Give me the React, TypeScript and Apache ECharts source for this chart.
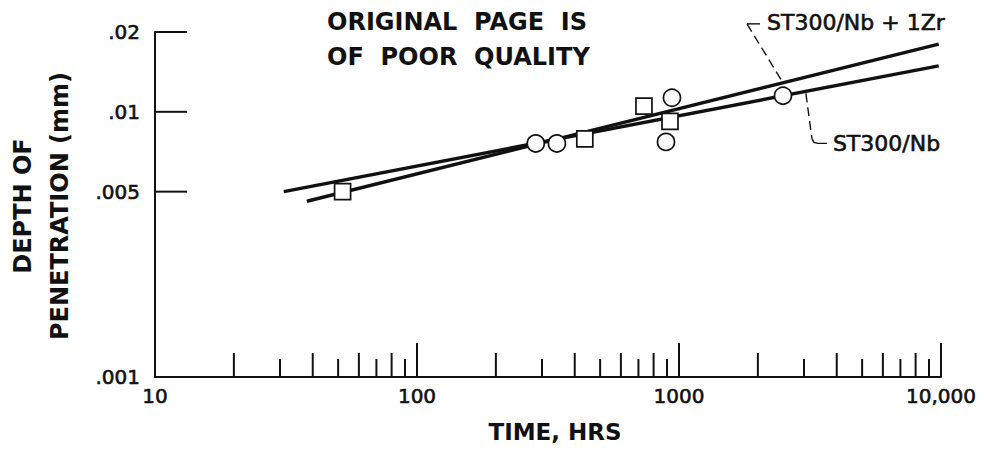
import React, { useEffect, useRef } from 'react';
import * as echarts from 'echarts';

// ---- data ----
const xLabelValues = [10, 100, 1000, 10000];
const xLabelTexts = ['10', '100', '1000', '10,000'];
const xMajorTicks = [100, 1000, 10000];
const xEvenTicks = [20, 40, 60, 80, 200, 400, 600, 800, 2000, 4000, 6000, 8000];
const xOddTicks = [30, 50, 70, 90, 300, 500, 700, 900, 3000, 5000, 7000, 9000];
const yTickValues = [0.001, 0.005, 0.01, 0.02];
const yTickLabels = ['.001', '.005', '.01', '.02'];

const circleTimes = [284, 342, 892, 940, 2494];
const circleDepths = [0.0076, 0.0076, 0.0077, 0.0113, 0.0115];
const squareTimes = [52, 437, 735, 924];
const squareDepths = [0.005, 0.0079, 0.0105, 0.0092];

const nbZrLineTimes = [38, 9800];
const nbZrLineDepths = [0.0046, 0.018];
const nbLineTimes = [31, 9800];
const nbLineDepths = [0.005, 0.0149];

const nbZrLabel = 'ST300/Nb + 1Zr';
const nbLabel = 'ST300/Nb';
const nbZrAnchorTime = 2494;
const nbAnchorTime = 3050;

const X_MIN = 10;
const X_MAX = 10000;
const Y_MIN = 0.001;
const Y_MAX = 0.02;

const FONT = "'DejaVu Sans', 'Liberation Sans', Arial, sans-serif";
const INK = '#111';
const THICK = { textBorderColor: INK, textBorderWidth: 0.6 };

function depthOnLine(times: number[], depths: number[], t: number) {
  const lx0 = Math.log10(times[0]);
  const lx1 = Math.log10(times[1]);
  const ly0 = Math.log10(depths[0]);
  const ly1 = Math.log10(depths[1]);
  const f = (Math.log10(t) - lx0) / (lx1 - lx0);
  return Math.pow(10, ly0 + f * (ly1 - ly0));
}

function tickSeries(values: number[], len: number) {
  return {
    type: 'custom',
    silent: true,
    z: 3,
    data: values.map((v) => [v, Y_MIN]),
    renderItem: (_p: any, api: any) => {
      const p = api.coord([api.value(0), api.value(1)]);
      return {
        type: 'line',
        shape: { x1: p[0], y1: p[1], x2: p[0], y2: p[1] - len },
        style: { stroke: INK, lineWidth: 2 },
      };
    },
  };
}

export default function App() {
  const ref = useRef<HTMLDivElement>(null);

  useEffect(() => {
    if (!ref.current) return;
    const chart = echarts.init(ref.current, undefined, { renderer: 'svg' });

    const option: any = {
      animation: false,
      backgroundColor: '#fff',
      grid: { left: 155, right: 43, top: 32, bottom: 76, containLabel: false },
      xAxis: {
        type: 'log',
        logBase: 10,
        min: X_MIN,
        max: X_MAX,
        axisLine: { show: true, lineStyle: { color: INK, width: 2 } },
        axisTick: { show: false },
        splitLine: { show: false },
        axisLabel: {
          color: INK,
          fontFamily: FONT,
          fontSize: 20,
          margin: 9,
          ...THICK,
          formatter: (v: number) => {
            const i = xLabelValues.findIndex((x) => Math.abs(x - v) / x < 1e-6);
            return i >= 0 ? xLabelTexts[i] : '';
          },
        },
      },
      yAxis: {
        type: 'log',
        logBase: 10,
        min: Y_MIN,
        max: Y_MAX,
        axisLine: { show: true, lineStyle: { color: INK, width: 2 } },
        axisTick: { show: false },
        axisLabel: { show: false },
        splitLine: { show: false },
      },
      series: [
        tickSeries(xMajorTicks, 34),
        tickSeries(xEvenTicks, 24),
        tickSeries(xOddTicks, 18),
        {
          type: 'custom',
          silent: true,
          z: 3,
          data: yTickValues.map((v, i) => [X_MIN, v, i]),
          renderItem: (_p: any, api: any) => {
            const p = api.coord([api.value(0), api.value(1)]);
            const idx = api.value(2);
            return {
              type: 'group',
              children: [
                {
                  type: 'line',
                  shape: { x1: p[0], y1: p[1], x2: p[0] + 32, y2: p[1] },
                  style: { stroke: INK, lineWidth: 2 },
                },
                {
                  type: 'text',
                  x: p[0] - 15,
                  y: p[1],
                  style: {
                    text: yTickLabels[idx],
                    fill: INK,
                    fontFamily: FONT,
                    fontSize: 20,
                    align: 'right',
                    verticalAlign: 'middle',
                    stroke: INK,
                    lineWidth: 0.6,
                  },
                },
              ],
            };
          },
        },
        {
          name: nbZrLabel,
          type: 'line',
          data: nbZrLineTimes.map((t, i) => [t, nbZrLineDepths[i]]),
          symbol: 'none',
          lineStyle: { color: INK, width: 3.4 },
          z: 4,
        },
        {
          name: nbLabel,
          type: 'line',
          data: nbLineTimes.map((t, i) => [t, nbLineDepths[i]]),
          symbol: 'none',
          lineStyle: { color: INK, width: 3.4 },
          z: 4,
        },
        {
          name: 'circles',
          type: 'scatter',
          data: circleTimes.map((t, i) => [t, circleDepths[i]]),
          symbol: 'circle',
          symbolSize: 17,
          itemStyle: { color: '#fff', borderColor: INK, borderWidth: 1.7, opacity: 1 },
          z: 6,
        },
        {
          name: 'squares',
          type: 'scatter',
          data: squareTimes.map((t, i) => [t, squareDepths[i]]),
          symbol: 'rect',
          symbolSize: 16,
          itemStyle: { color: '#fff', borderColor: INK, borderWidth: 1.7, opacity: 1 },
          z: 6,
        },
      ],
    };
    chart.setOption(option);

    const a = chart.convertToPixel({ gridIndex: 0 } as any, [
      nbZrAnchorTime,
      depthOnLine(nbZrLineTimes, nbZrLineDepths, nbZrAnchorTime),
    ]) as number[];
    const b = chart.convertToPixel({ gridIndex: 0 } as any, [
      nbAnchorTime,
      depthOnLine(nbLineTimes, nbLineDepths, nbAnchorTime),
    ]) as number[];

    const dashStyle = { stroke: INK, lineWidth: 1.4, lineDash: [9, 5], fill: 'none' };
    const solidStyle = { stroke: INK, lineWidth: 1.4, fill: 'none' };
    const annText = { fill: INK, fontFamily: FONT, fontSize: 22, stroke: INK, lineWidth: 0.6 };

    chart.setOption({
      graphic: [
        // stamp
        {
          type: 'text',
          left: 327,
          top: 10,
          style: { text: 'ORIGINAL  PAGE  IS', fill: INK, fontFamily: FONT, fontWeight: 'bold', fontSize: 24 },
        },
        {
          type: 'text',
          left: 327,
          top: 45,
          style: { text: 'OF  POOR  QUALITY', fill: INK, fontFamily: FONT, fontWeight: 'bold', fontSize: 24 },
        },
        // axis titles
        {
          type: 'text',
          x: 41,
          y: 206,
          rotation: Math.PI / 2,
          style: {
            text: 'DEPTH OF\nPENETRATION (mm)',
            fill: INK,
            fontFamily: FONT,
            fontWeight: 'bold',
            fontSize: 24,
            lineHeight: 37,
            align: 'center',
            verticalAlign: 'middle',
          },
        },
        {
          type: 'text',
          x: 555,
          y: 432,
          style: {
            text: 'TIME, HRS',
            fill: INK,
            fontFamily: FONT,
            fontWeight: 'bold',
            fontSize: 23,
            align: 'center',
            verticalAlign: 'middle',
          },
        },
        // ST300/Nb + 1Zr annotation
        {
          type: 'line',
          shape: { x1: a[0] - 36, y1: a[1] - 59, x2: a[0], y2: a[1] },
          style: dashStyle,
        },
        {
          type: 'line',
          shape: { x1: a[0] - 36, y1: a[1] - 59, x2: a[0] - 23, y2: a[1] - 59 },
          style: solidStyle,
        },
        {
          type: 'text',
          x: a[0] - 16,
          y: a[1] - 60,
          style: { ...annText, text: nbZrLabel, align: 'left', verticalAlign: 'middle' },
        },
        // ST300/Nb annotation
        {
          type: 'line',
          shape: { x1: b[0], y1: b[1] + 2, x2: b[0] + 6, y2: b[1] + 47 },
          style: dashStyle,
        },
        {
          type: 'polyline',
          shape: {
            points: [
              [b[0] + 6, b[1] + 47],
              [b[0] + 8, b[1] + 51],
              [b[0] + 12, b[1] + 52],
              [b[0] + 21, b[1] + 52],
            ],
          },
          style: solidStyle,
        },
        {
          type: 'text',
          x: b[0] + 27,
          y: b[1] + 52,
          style: { ...annText, text: nbLabel, align: 'left', verticalAlign: 'middle' },
        },
      ],
    });

    return () => chart.dispose();
  }, []);

  return (
    <div
      ref={ref}
      style={{ position: 'fixed', left: 0, top: 0, width: 984, height: 453, background: '#fff' }}
    />
  );
}
